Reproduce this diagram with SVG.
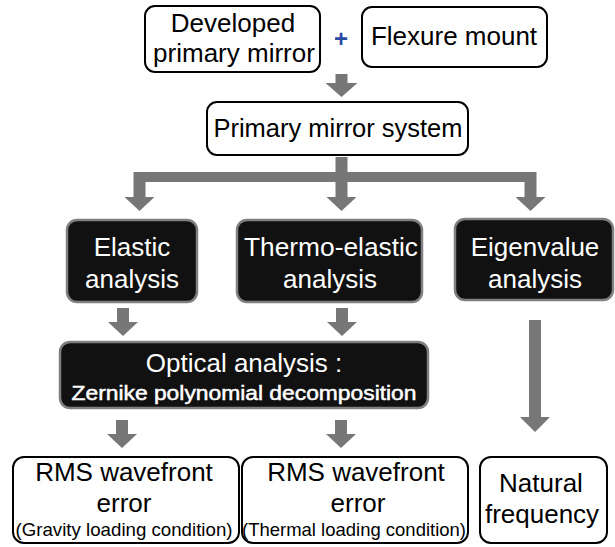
<svg xmlns="http://www.w3.org/2000/svg" width="615" height="547" viewBox="0 0 615 547">
<style>
.wbox{fill:#fff;stroke:#000;stroke-width:2}
.bbox{fill:#111;stroke:#808080;stroke-width:2.5}
.t{font-family:"Liberation Sans",Arial,sans-serif;text-anchor:middle;fill:#000;font-size:26px}
.w{fill:#fff}
.arr{fill:#777}
</style>
<rect width="615" height="547" fill="#fff"/>
<g id="connectors">
<path class="arr" d="M335.5,74h12v9h10l-16,14l-16,-14h10z"/>
<path class="arr" d="M335.5,157h12v15h189v25h9l-15,14l-15,-14h9v-15h-177v15h9l-15,14l-15,-14h9v-15h-190v15h9l-15,14l-15,-14h9v-25h202z"/>
<path class="arr" d="M117,308h12v14h9l-15,14l-15,-14h9z"/>
<path class="arr" d="M336,308h12v14h9l-15,14l-15,-14h9z"/>
<path class="arr" d="M529,320h12v97h9l-15,15l-15,-15h9z"/>
<path class="arr" d="M116,420h12v14h9l-15,14l-15,-14h9z"/>
<path class="arr" d="M335,420h12v14h9l-15,14l-15,-14h9z"/>
<text class="t" x="341" y="47" style="font-size:24px;font-weight:bold;fill:#2b4aa0">+</text>
</g>
<g id="developed">
<rect class="wbox" x="145" y="6" width="175" height="66" rx="10"/>
<text class="t" x="233" y="32">Developed</text>
<text class="t" x="234" y="62">primary mirror</text>
</g>
<g id="flexure">
<rect class="wbox" x="362" y="7" width="185" height="60" rx="10"/>
<text class="t" x="454" y="45">Flexure mount</text>
</g>
<g id="system">
<rect class="wbox" x="207" y="102" width="261" height="53" rx="10"/>
<text class="t" x="338" y="137" textLength="249" lengthAdjust="spacingAndGlyphs">Primary mirror system</text>
</g>
<g id="elastic">
<rect class="bbox" x="67" y="220" width="130" height="82" rx="10"/>
<text class="t w" x="132" y="256">Elastic</text>
<text class="t w" x="132" y="288">analysis</text>
</g>
<g id="thermo">
<rect class="bbox" x="237" y="220" width="185" height="82" rx="10"/>
<text class="t w" x="331" y="256" textLength="174" lengthAdjust="spacingAndGlyphs">Thermo-elastic</text>
<text class="t w" x="330" y="288">analysis</text>
</g>
<g id="eigen">
<rect class="bbox" x="455" y="219" width="158" height="81" rx="10"/>
<text class="t w" x="535" y="256">Eigenvalue</text>
<text class="t w" x="535" y="288">analysis</text>
</g>
<g id="optical">
<rect class="bbox" x="60" y="342" width="368" height="66" rx="10"/>
<text class="t w" x="244" y="372" style="font-size:26px">Optical analysis :</text>
<text class="t w" x="244" y="400" style="font-size:21px;stroke:#fff;stroke-width:0.5" textLength="345" lengthAdjust="spacingAndGlyphs">Zernike polynomial decomposition</text>
</g>
<g id="rms-gravity">
<rect class="wbox" x="13" y="457" width="226" height="86" rx="11"/>
<text class="t" x="124" y="481">RMS wavefront</text>
<text class="t" x="124" y="512">error</text>
<text class="t" x="124" y="536" style="font-size:19px" textLength="217" lengthAdjust="spacingAndGlyphs">(Gravity loading condition)</text>
</g>
<g id="rms-thermal">
<rect class="wbox" x="242" y="457" width="226" height="86" rx="11"/>
<text class="t" x="356" y="481">RMS wavefront</text>
<text class="t" x="358" y="512">error</text>
<text class="t" x="354" y="536" style="font-size:19px" textLength="224" lengthAdjust="spacingAndGlyphs">(Thermal loading condition)</text>
</g>
<g id="natural">
<rect class="wbox" x="480" y="457" width="127" height="86" rx="11"/>
<text class="t" x="541" y="492">Natural</text>
<text class="t" x="542" y="523">frequency</text>
</g>
</svg>
